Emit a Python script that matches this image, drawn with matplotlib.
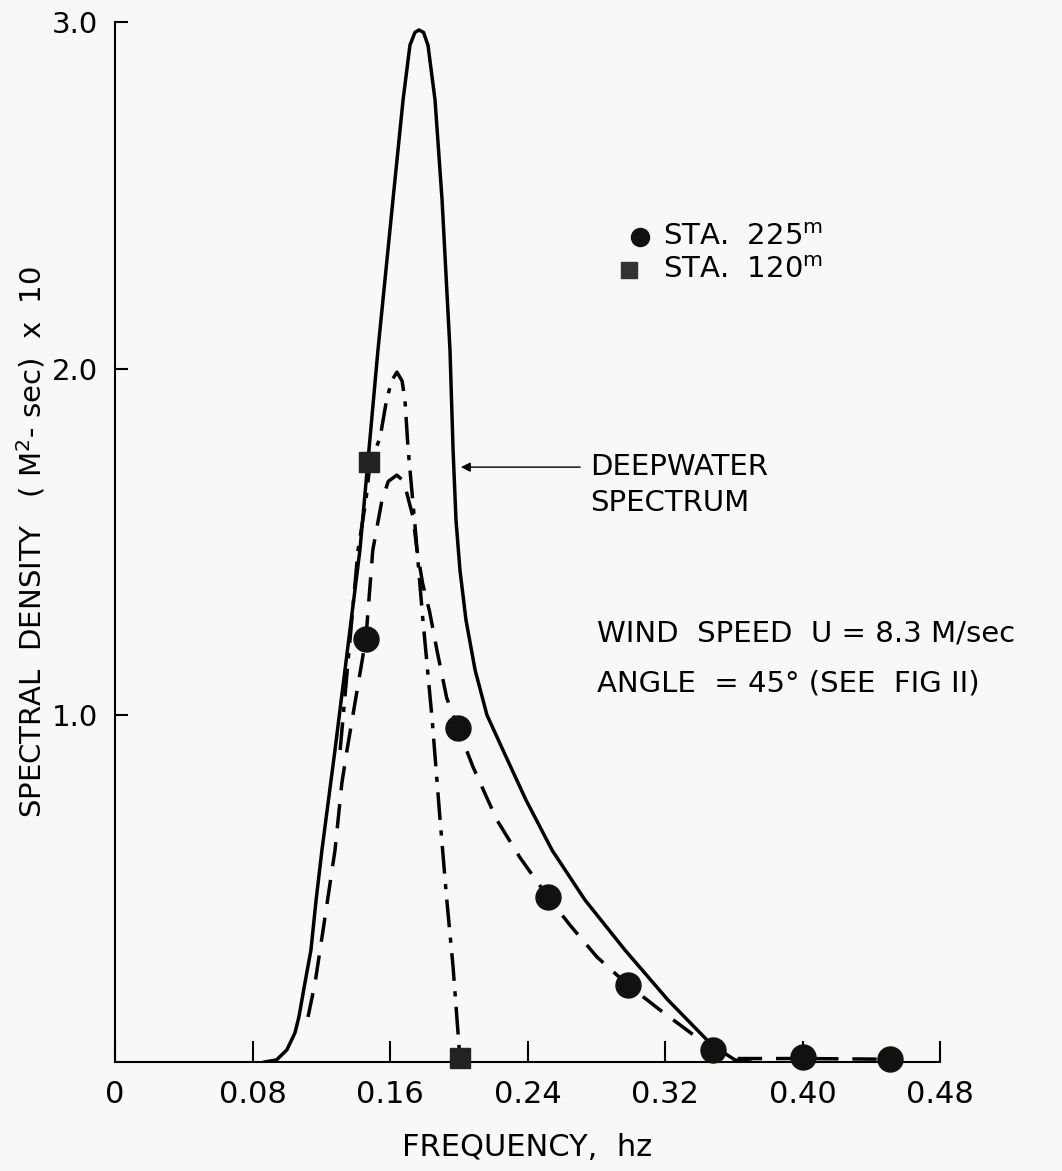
import matplotlib
matplotlib.use("Agg")
import matplotlib.pyplot as plt

# deepwater spectrum (solid)
deep_f = [0.087, 0.094, 0.100, 0.1047, 0.107, 0.1105, 0.1140, 0.117, 0.1204, 0.128,
          0.1425, 0.153, 0.1617, 0.1676, 0.1716, 0.1745, 0.1769, 0.1795, 0.1821, 0.1862,
          0.1903, 0.1949, 0.1967, 0.1984, 0.2007, 0.2042, 0.2095, 0.2164, 0.2257, 0.2391,
          0.2543, 0.2735, 0.2967, 0.3217, 0.3473, 0.3607, 0.3695]
deep_s = [0.0, 0.006, 0.035, 0.084, 0.13, 0.228, 0.323, 0.467, 0.611, 0.90,
          1.477, 2.054, 2.486, 2.775, 2.933, 2.97, 2.977, 2.97, 2.933, 2.775,
          2.486, 2.054, 1.765, 1.563, 1.419, 1.275, 1.131, 1.001, 0.90, 0.756,
          0.611, 0.467, 0.323, 0.179, 0.049, 0.006, 0.0]

# STA 225 m curve (dashed) and measured points (circles)
sta225_f = [0.1123, 0.1164, 0.1222, 0.128, 0.132, 0.135, 0.146, 0.150, 0.1553, 0.159,
            0.164, 0.168, 0.1734, 0.1757, 0.179, 0.183, 0.1873, 0.193, 0.1996, 0.2083,
            0.2222, 0.2356, 0.2519, 0.2647, 0.2804, 0.2985, 0.3171, 0.3328, 0.348, 0.36,
            0.40, 0.451]
sta225_s = [0.13, 0.228, 0.418, 0.611, 0.805, 0.90, 1.223, 1.477, 1.62, 1.675,
            1.693, 1.675, 1.572, 1.477, 1.38, 1.30, 1.188, 1.05, 0.963, 0.851,
            0.698, 0.59, 0.476, 0.395, 0.303, 0.222, 0.15, 0.092, 0.035, 0.01,
            0.01, 0.008]
pts225_f = [0.146, 0.1996, 0.2519, 0.2985, 0.348, 0.400, 0.451]
pts225_s = [1.22, 0.963, 0.476, 0.222, 0.035, 0.015, 0.008]

# STA 120 m curve (dash-dot) and measured points (squares)
sta120_f = [0.131, 0.1414, 0.146, 0.1484, 0.1542, 0.158, 0.161, 0.164, 0.167, 0.1687,
            0.1705, 0.1745, 0.179, 0.1844, 0.189, 0.193, 0.1967, 0.2007]
sta120_s = [0.90, 1.477, 1.62, 1.728, 1.80, 1.91, 1.965, 1.99, 1.965, 1.91,
            1.77, 1.55, 1.283, 0.995, 0.707, 0.47, 0.274, 0.01]
pts120_f = [0.148, 0.2007]
pts120_s = [1.73, 0.012]

xticks = [0, 0.08, 0.16, 0.24, 0.32, 0.40, 0.48]
xtick_labels = ["0", "0.08", "0.16", "0.24", "0.32", "0.40", "0.48"]
yticks = [1.0, 2.0, 3.0]
ytick_labels = ["1.0", "2.0", "3.0"]

plt.rcParams["font.family"] = ["DejaVu Sans"]
bg = "#f8f8f6"
fig = plt.figure(figsize=(10.62, 11.71), dpi=100, facecolor=bg)
ax = fig.add_axes([115 / 1062, 1 - 1062 / 1171, 825 / 1062, 1040 / 1171], facecolor=bg)

ax.plot(deep_f, deep_s, color="black", lw=2.5, solid_joinstyle="round")
ax.plot(sta225_f, sta225_s, color="black", lw=2.5, linestyle=(0, (7, 4)))
ax.plot(sta120_f, sta120_s, color="black", lw=2.5, linestyle=(0, (8, 3, 1.5, 3)))
ax.plot(pts225_f, pts225_s, "o", color="#111111", ms=18, clip_on=False, zorder=5)
ax.plot(pts120_f, pts120_s, "s", color="#222222", ms=15, clip_on=False, zorder=5)

ax.set_xlim(0, 0.48)
ax.set_ylim(0, 3.0)
for s in ["top", "right"]:
    ax.spines[s].set_visible(False)
for s in ["left", "bottom"]:
    ax.spines[s].set_linewidth(1.5)

ax.set_xticks(xticks)
ax.set_xticklabels(xtick_labels)
ax.set_yticks(yticks)
ax.set_yticklabels(ytick_labels)
ax.tick_params(axis="x", direction="in", length=15, width=1.5, pad=13, labelsize=22)
ax.tick_params(axis="y", direction="in", length=9, width=1.5, pad=12, labelsize=21)

ax.set_xlabel("FREQUENCY,  hz", fontsize=22)
ax.xaxis.set_label_coords(0.5, -0.068)
ax.set_ylabel("SPECTRAL  DENSITY   ( M$^{2}$- sec)  x  10", fontsize=21)
ax.yaxis.set_label_coords(-0.082, 0.5)

# key
ax.plot([0.3055], [2.38], "o", color="#111111", ms=13)
ax.text(0.3188, 2.38, "STA.  225$^{\\mathrm{m}}$", fontsize=21, va="center")
ax.plot([0.299], [2.284], "s", color="#333333", ms=12)
ax.text(0.3188, 2.284, "STA.  120$^{\\mathrm{m}}$", fontsize=21, va="center")

ax.annotate("", xy=(0.1996, 1.716), xytext=(0.2723, 1.716),
            arrowprops=dict(arrowstyle="-|>", color="black", lw=1.0, mutation_scale=14))
ax.text(0.2764, 1.716, "DEEPWATER", fontsize=21, va="center")
ax.text(0.2764, 1.612, "SPECTRUM", fontsize=21, va="center")

ax.text(0.2804, 1.237, "WIND  SPEED  U = 8.3 M/sec", fontsize=21, va="center")
ax.text(0.2804, 1.093, "ANGLE  = 45° (SEE  FIG II)", fontsize=21, va="center")

plt.savefig("out.png", dpi=100, facecolor=bg)
